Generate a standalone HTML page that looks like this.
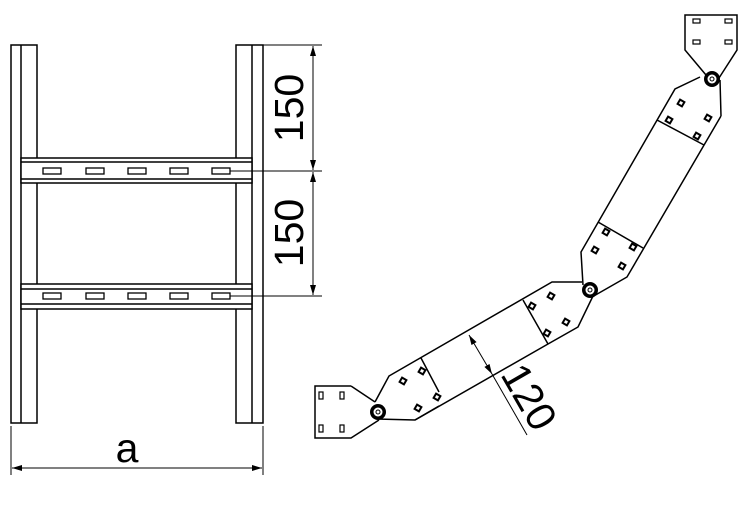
<!DOCTYPE html>
<html><head><style>body{margin:0;background:#fff}svg{display:block}</style></head><body>
<svg width="746" height="510" viewBox="0 0 746 510" xmlns="http://www.w3.org/2000/svg" font-family="Liberation Sans, sans-serif">
<defs>
<marker id="ar" viewBox="0 0 10 6" refX="10" refY="3" markerWidth="10" markerHeight="6" orient="auto-start-reverse" markerUnits="userSpaceOnUse"><path d="M0,0L10,3L0,6z" fill="#000"/></marker>
<g id="sq"><rect x="-3.5" y="-3.5" width="7" height="7" fill="#000"/><rect x="-1.5" y="-1.5" width="3" height="3" fill="#fff"/></g>
<g id="hub"><circle r="8" fill="#000"/><circle r="4.5" fill="#fff"/><circle r="2" fill="none" stroke="#000" stroke-width="1"/></g>
</defs>
<g stroke="#000" stroke-width="1.5" fill="none">
<rect x="11" y="45" width="26" height="378" fill="#fff"/>
<line x1="21" y1="45" x2="21" y2="423"/>
<rect x="236" y="45" width="27" height="378" fill="#fff"/>
<line x1="252" y1="45" x2="252" y2="423"/>
<rect x="21" y="158" width="231" height="25" fill="#fff"/>
<line x1="21" y1="162" x2="252" y2="162"/><line x1="21" y1="179" x2="252" y2="179"/>
<rect x="21" y="284" width="231" height="25" fill="#fff"/>
<line x1="21" y1="289" x2="252" y2="289"/><line x1="21" y1="304" x2="252" y2="304"/>
<g stroke-width="1.3">
<rect x="43" y="168" width="18" height="6"/><rect x="86" y="168" width="18" height="6"/><rect x="128" y="168" width="18" height="6"/><rect x="170" y="168" width="18" height="6"/><rect x="212" y="168" width="18" height="6"/>
<rect x="43" y="293" width="18" height="6"/><rect x="86" y="293" width="18" height="6"/><rect x="128" y="293" width="18" height="6"/><rect x="170" y="293" width="18" height="6"/><rect x="212" y="293" width="18" height="6"/>
</g>
<g stroke-width="1">
<line x1="263" y1="45" x2="322" y2="45"/>
<line x1="230" y1="171" x2="322" y2="171"/>
<line x1="230" y1="296" x2="322" y2="296"/>
<line x1="313" y1="46" x2="313" y2="170" marker-start="url(#ar)" marker-end="url(#ar)"/>
<line x1="313" y1="172" x2="313" y2="295" marker-start="url(#ar)" marker-end="url(#ar)"/>
<line x1="11" y1="426" x2="11" y2="475"/><line x1="263" y1="426" x2="263" y2="475"/>
<line x1="12" y1="468" x2="262" y2="468" marker-start="url(#ar)" marker-end="url(#ar)"/>
</g>
<path d="M351,386 L315,386 L315,438 L351,438 L379,420 M351,386 L375,402" />
<g stroke-width="1.2"><rect x="319" y="392" width="4" height="7"/><rect x="340" y="392" width="4" height="7"/><rect x="319" y="425" width="4" height="7"/><rect x="340" y="425" width="4" height="7"/></g>
<path d="M375,402 L389,376 L552,282 L582,282 M378,419 L415,420 L548,344 L578,327 L593,296 M421,358 L439,392 M523,300 L548,344"/>
<line x1="415" y1="420" x2="439" y2="406"/>
<path d="M700,77 L675,89 L581,252 L583,285 M721,116 L720,80 M721,116 L627,277 L592,297 M657,120 L704,145 M598,222 L643,248"/>
<path d="M706,75 L685,50 L685,15 L737,15 L737,50 L719,78"/>
<g stroke-width="1.2"><rect x="693" y="19" width="7" height="4"/><rect x="725" y="19" width="7" height="4"/><rect x="693" y="40" width="7" height="4"/><rect x="725" y="40" width="7" height="4"/></g>
<g stroke-width="1">
<line x1="469" y1="335" x2="492" y2="374" marker-start="url(#ar)" marker-end="url(#ar)"/>
<line x1="492" y1="374" x2="527" y2="435"/>
</g>
</g>
<use href="#hub" x="378" y="412"/>
<use href="#hub" x="590" y="290"/>
<use href="#hub" x="712" y="79"/>
<use href="#sq" x="403" y="381" transform="rotate(30 403 381)"/>
<use href="#sq" x="422" y="371" transform="rotate(30 422 371)"/>
<use href="#sq" x="437" y="397" transform="rotate(30 437 397)"/>
<use href="#sq" x="418" y="408" transform="rotate(30 418 408)"/>
<use href="#sq" x="532" y="306" transform="rotate(30 532 306)"/>
<use href="#sq" x="551" y="296" transform="rotate(30 551 296)"/>
<use href="#sq" x="547" y="333" transform="rotate(30 547 333)"/>
<use href="#sq" x="566" y="322" transform="rotate(30 566 322)"/>
<use href="#sq" x="681" y="103" transform="rotate(30 681 103)"/>
<use href="#sq" x="669" y="120" transform="rotate(30 669 120)"/>
<use href="#sq" x="708" y="118" transform="rotate(30 708 118)"/>
<use href="#sq" x="697" y="136" transform="rotate(30 697 136)"/>
<use href="#sq" x="606" y="232" transform="rotate(30 606 232)"/>
<use href="#sq" x="595" y="250" transform="rotate(30 595 250)"/>
<use href="#sq" x="633" y="247" transform="rotate(30 633 247)"/>
<use href="#sq" x="622" y="266" transform="rotate(30 622 266)"/>
<g font-size="41" fill="#000">
<text x="0" y="0" text-anchor="middle" transform="translate(303,108) rotate(-90)">150</text>
<text x="0" y="0" text-anchor="middle" transform="translate(303,233) rotate(-90)">150</text>
<text x="127" y="462" text-anchor="middle">a</text>
<text x="0" y="0" text-anchor="middle" transform="translate(517,404) rotate(60)">120</text>
</g>
</svg>
</body></html>
